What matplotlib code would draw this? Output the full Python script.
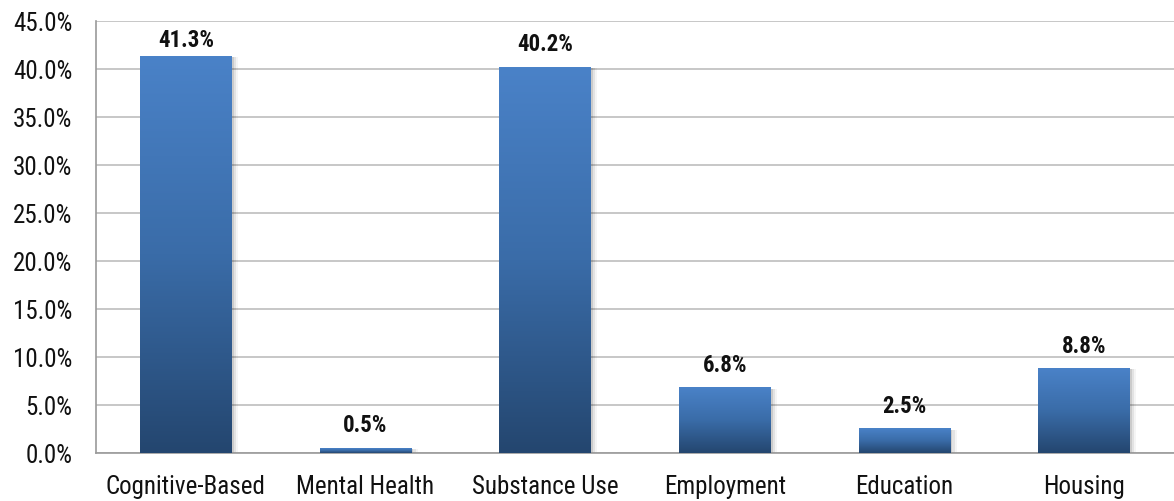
import numpy as np
import matplotlib.pyplot as plt
from matplotlib.colors import LinearSegmentedColormap

categories = ["Cognitive-Based", "Mental Health", "Substance Use",
              "Employment", "Education", "Housing"]
values = [41.3, 0.5, 40.2, 6.8, 2.5, 8.8]

plt.rcParams['font.family'] = ['Roboto Condensed', 'Liberation Sans Narrow',
                               'Roboto', 'DejaVu Sans']
plt.rcParams['font.stretch'] = 'condensed'

fig = plt.figure(figsize=(11.74, 5.02), dpi=100)
ax = fig.add_axes([96 / 1174, 48 / 502, 1078 / 1174, 432 / 502])

cmap = LinearSegmentedColormap.from_list("bar", ["#24466f", "#3a6ca8", "#4a82c8"])
grad = np.linspace(0, 1, 256).reshape(-1, 1)
width = 0.51

for i, v in enumerate(values):
    x0, x1 = i - width / 2, i + width / 2
    # soft shadow
    for k, a in enumerate([0.10, 0.07, 0.04]):
        off = 0.012 * (k + 1)
        ax.fill([x0 + off, x1 + off, x1 + off, x0 + off],
                [-0.15 * (k + 1), -0.15 * (k + 1), v - 0.1, v - 0.1],
                color="black", alpha=a, lw=0, zorder=2)
    ax.imshow(grad, extent=[x0, x1, 0, v], origin="lower", aspect="auto",
              cmap=cmap, zorder=3)
    # label sits above the bar, but is kept inside the plot area
    ax.text(i, min(v + 1.75, 42.4), f"{v:.1f}%", ha="center", va="baseline",
            fontsize=16.5, fontweight="bold", color="#111111", zorder=4)

ax.set_xlim(-0.5, len(values) - 0.5)
ax.set_ylim(0, 45)
ax.set_yticks(np.arange(0, 46, 5))
ax.set_yticklabels([f"{t:.1f}%" for t in np.arange(0, 46, 5)], fontsize=18)
ax.set_xticks(range(len(categories)))
ax.set_xticklabels(categories, fontsize=18)
ax.tick_params(axis="y", length=0, pad=17, colors="#111111")
ax.tick_params(axis="x", length=0, pad=15, colors="#111111")
ax.grid(axis="y", color="#bdbdbd", lw=1.2, zorder=0)
ax.set_axisbelow(True)
for s in ["top", "right"]:
    ax.spines[s].set_visible(False)
ax.spines["left"].set_color("#9a9a9a")
ax.spines["bottom"].set_color("#9a9a9a")
ax.spines["left"].set_linewidth(1.2)
ax.spines["bottom"].set_linewidth(1.2)

fig.savefig("out.png", dpi=100)
